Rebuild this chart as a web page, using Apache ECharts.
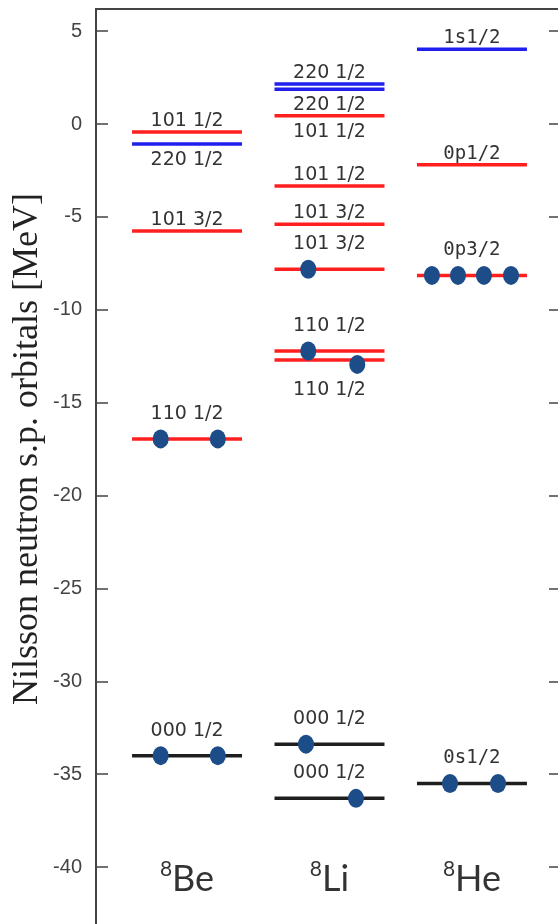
<!DOCTYPE html>
<html><head><meta charset="utf-8">
<script src="https://cdn.jsdelivr.net/npm/echarts@6/dist/echarts.min.js"></script>
<style>html,body{margin:0;padding:0;background:#fff}#c{width:558px;height:924px}</style>
</head><body><div id="c"></div>
<script>
// ---- data ----
const nuclei = ['Be', 'Li', 'He'];
const massNumbers = ['8', '8', '8'];
const columnX = [1, 2, 3];
const yTickLabels = [5, 0, -5, -10, -15, -20, -25, -30, -35, -40];

// 8Be levels
const beEnergy = [-0.43, -1.08, -5.76, -16.95, -34.0];
const beShell  = [1, 2, 1, 1, 0];
const beLabel  = ['101 1/2', '220 1/2', '101 3/2', '110 1/2', '000 1/2'];
const beSide   = ['above', 'below', 'above', 'above', 'above'];
const beOcc    = [0, 0, 0, 2, 2];
const beDotX   = [0.815, 1.216, 0.815, 1.216];
const beDotE   = [-16.95, -16.95, -34.0, -34.0];

// 8Li levels
const liEnergy = [2.15, 1.87, 0.45, -3.34, -5.40, -7.82, -12.22, -12.71, -33.38, -36.30];
const liShell  = [2, 2, 1, 1, 1, 1, 1, 1, 0, 0];
const liLabel  = ['220 1/2', '220 1/2', '101 1/2', '101 1/2', '101 3/2', '101 3/2', '110 1/2', '110 1/2', '000 1/2', '000 1/2'];
const liSide   = ['above', 'below', 'below', 'above', 'above', 'above', 'above', 'below', 'above', 'above'];
const liOcc    = [0, 0, 0, 0, 0, 1, 1, 1, 1, 1];
const liDotX   = [1.851, 1.851, 2.195, 1.835, 2.186];
const liDotE   = [-7.82, -12.22, -12.94, -33.38, -36.30];

// 8He levels
const heEnergy = [4.02, -2.19, -8.15, -35.5];
const heShell  = [2, 1, 1, 0];
const heLabel  = ['1s1/2', '0p1/2', '0p3/2', '0s1/2'];
const heSide   = ['above', 'above', 'above', 'above'];
const heOcc    = [0, 0, 4, 2];
const heDotX   = [2.719, 2.902, 3.084, 3.274, 2.846, 3.183];
const heDotE   = [-8.15, -8.15, -8.15, -8.15, -35.5, -35.5];

// ---- styling ----
const shellColor = ['#1e1e1e', '#ff1f1f', '#1f1fee'];
const HALF = 0.386;
const labelFont = ['DejaVu Sans', 'DejaVu Sans', 'DejaVu Sans Mono'];

function build(col, E, shell, lab, side, occ) {
  return E.map((e, i) => ({ col, x: columnX[col], e, shell: shell[i], label: lab[i], side: side[i], occ: occ[i] }));
}
const levels = [].concat(
  build(0, beEnergy, beShell, beLabel, beSide, beOcc),
  build(1, liEnergy, liShell, liLabel, liSide, liOcc),
  build(2, heEnergy, heShell, heLabel, heSide, heOcc)
);
const dots = [].concat(
  beDotX.map((x, i) => [x, beDotE[i]]),
  liDotX.map((x, i) => [x, liDotE[i]]),
  heDotX.map((x, i) => [x, heDotE[i]])
);

const chart = echarts.init(document.getElementById('c'), null, { renderer: 'canvas' });
const yAxisCommon = {
  type: 'value', min: -45, max: 6.19, interval: 5,
  splitLine: { show: false },
  axisLine: { show: true, lineStyle: { color: '#444', width: 2 } },
  axisTick: { show: true, inside: true, length: 12, lineStyle: { color: '#444', width: 1.5 } }
};
chart.setOption({
  backgroundColor: '#fff',
  animation: false,
  grid: { left: 96, top: 9, width: 465, height: 951, outerBoundsMode: 'none', containLabel: false,
          show: true, borderColor: '#444', borderWidth: 2, backgroundColor: 'transparent' },
  xAxis: { type: 'value', min: 0.361, max: 3.625, show: false },
  yAxis: [
    Object.assign({}, yAxisCommon, {
      position: 'left',
      axisLabel: {
        show: true, margin: 14, color: '#444', fontSize: 20, fontFamily: 'Liberation Sans',
        showMaxLabel: false,
        formatter: v => (yTickLabels.indexOf(v) >= 0 ? String(v) : '')
      }
    }),
    Object.assign({}, yAxisCommon, { position: 'right', axisLabel: { show: false } })
  ],
  graphic: [{
    type: 'text', x: 28, y: 449, rotation: Math.PI / 2,
    style: { text: 'Nilsson neutron s.p. orbitals [MeV]', fontSize: 36, fontFamily: 'Liberation Serif', fill: '#222', align: 'center', verticalAlign: 'middle' }
  }],
  series: [
    {
      type: 'custom',
      data: levels.map(l => [l.x, l.e]),
      encode: { x: 0, y: 1 },
      z: 2,
      renderItem: (params, api) => {
        const lv = levels[params.dataIndex];
        const a = api.coord([lv.x - HALF, lv.e]);
        const b = api.coord([lv.x + HALF, lv.e]);
        const children = [{
          type: 'line',
          shape: { x1: a[0], y1: a[1], x2: b[0], y2: a[1] },
          style: { stroke: shellColor[lv.shell], lineWidth: 3.5 }
        }];
        if (lv.label) {
          const off = lv.side === 'above' ? -(lv.occ ? 25 : 11) : (lv.occ ? 30 : 16);
          children.push({
            type: 'text', x: (a[0] + b[0]) / 2, y: a[1] + off,
            style: { text: lv.label, fill: '#333', fontSize: 19, fontFamily: labelFont[lv.col], align: 'center', verticalAlign: 'middle' }
          });
        }
        return { type: 'group', children };
      }
    },
    {
      type: 'scatter',
      data: dots,
      symbol: 'circle',
      symbolSize: [16, 19],
      itemStyle: { color: '#1d4d88', opacity: 1 },
      z: 5
    },
    {
      type: 'scatter',
      data: columnX.map(x => [x, -40.65]),
      symbolSize: 0,
      z: 5,
      label: {
        show: true, position: 'inside',
        formatter: p => '{s|' + massNumbers[p.dataIndex] + '}{b|' + nuclei[p.dataIndex] + '}',
        rich: {
          s: { fontSize: 21, fontFamily: 'Lato', color: '#000', verticalAlign: 'top', lineHeight: 22 },
          b: { fontSize: 36, fontFamily: 'Lato', color: '#000', lineHeight: 40 }
        }
      }
    }
  ]
});
</script>
</body></html>
